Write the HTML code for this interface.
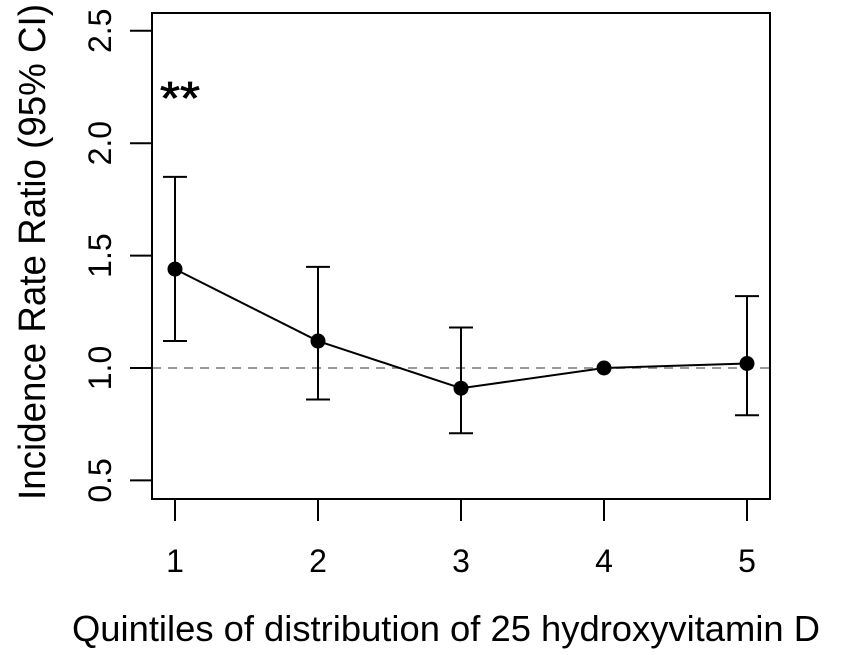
<!DOCTYPE html>
<html><head><meta charset="utf-8"><style>
html,body{margin:0;padding:0;background:#fff;}
svg{display:block;font-family:"Liberation Sans",Arial,sans-serif;}
</style></head><body>
<svg id="chart" width="850" height="655" viewBox="0 0 850 655"></svg>
<script>
const categories = [1, 2, 3, 4, 5];
const estimates = [1.44, 1.12, 0.91, 1.00, 1.02];
const upperCI = [1.85, 1.45, 1.18, null, 1.32];
const lowerCI = [1.12, 0.86, 0.71, null, 0.79];
const yTicks = [0.5, 1.0, 1.5, 2.0, 2.5];
const yTickLabels = ["0.5", "1.0", "1.5", "2.0", "2.5"];
const xTickLabels = ["1", "2", "3", "4", "5"];
const refValue = 1.0;

const NS = "http://www.w3.org/2000/svg";
const svg = document.getElementById("chart");
const xScale = v => 175 + (v - 1) * 143;
const yScale = v => 368 - (v - 1) * 224.8;
function mk(tag, attrs, parent) {
  const e = document.createElementNS(NS, tag);
  for (const k in attrs) e.setAttribute(k, attrs[k]);
  (parent || svg).appendChild(e);
  return e;
}
let e = mk("line", {x1: 152, x2: 770, y1: yScale(refValue), y2: yScale(refValue), stroke: "#999", "stroke-width": 2, "stroke-dasharray": "9,7"});


e = mk("rect", {x: 152, y: 13, width: 618, height: 486, fill: "none", stroke: "#000", "stroke-width": 2});


yTicks.forEach((t, i) => {
  const y = yScale(t);
  let l = mk("line", {x1: 130, x2: 152, y1: y, y2: y, stroke: "#000", "stroke-width": 2});
  
  
  let tx = mk("text", {x: 0, y: 0, "font-size": 32, "text-anchor": "middle", transform: `translate(111,${y}) rotate(-90)`});
  tx.textContent = yTickLabels[i];
  
  
});
categories.forEach((c, i) => {
  const x = xScale(c);
  let l = mk("line", {x1: x, x2: x, y1: 499, y2: 521, stroke: "#000", "stroke-width": 2});
  
  
  let tx = mk("text", {x: x, y: 572, "font-size": 32, "text-anchor": "middle"});
  tx.textContent = xTickLabels[i];
  
  
});
categories.forEach((c, i) => {
  if (upperCI[i] == null) return;
  const x = xScale(c), yu = yScale(upperCI[i]), yl = yScale(lowerCI[i]);
  const g = mk("g", {stroke: "#000", "stroke-width": 2});
  
  
  mk("line", {x1: x, x2: x, y1: yu, y2: yl}, g);
  mk("line", {x1: x - 12, x2: x + 12, y1: yu, y2: yu}, g);
  mk("line", {x1: x - 12, x2: x + 12, y1: yl, y2: yl}, g);
});
const pts = categories.map((c, i) => xScale(c) + "," + yScale(estimates[i])).join(" ");
e = mk("polyline", {points: pts, fill: "none", stroke: "#000", "stroke-width": 2});


categories.forEach((c, i) => {
  let p = mk("circle", {cx: xScale(c), cy: yScale(estimates[i]), r: 7.5, fill: "#000"});
  
  
});
e = mk("text", {x: 180, y: 114, "font-size": 46, "text-anchor": "middle", stroke: "#000", "stroke-width": 0.8, textLength: 40, lengthAdjust: "spacingAndGlyphs"});
e.textContent = "**";


e = mk("text", {x: 446, y: 641, "font-size": 36, "text-anchor": "middle", textLength: 748, lengthAdjust: "spacingAndGlyphs"});
e.textContent = "Quintiles of distribution of 25 hydroxyvitamin D";


e = mk("text", {x: 0, y: 0, "font-size": 38, "text-anchor": "middle", textLength: 496, lengthAdjust: "spacingAndGlyphs", transform: "translate(45,252) rotate(-90)"});
e.textContent = "Incidence Rate Ratio (95% CI)";


</script>
</body></html>
